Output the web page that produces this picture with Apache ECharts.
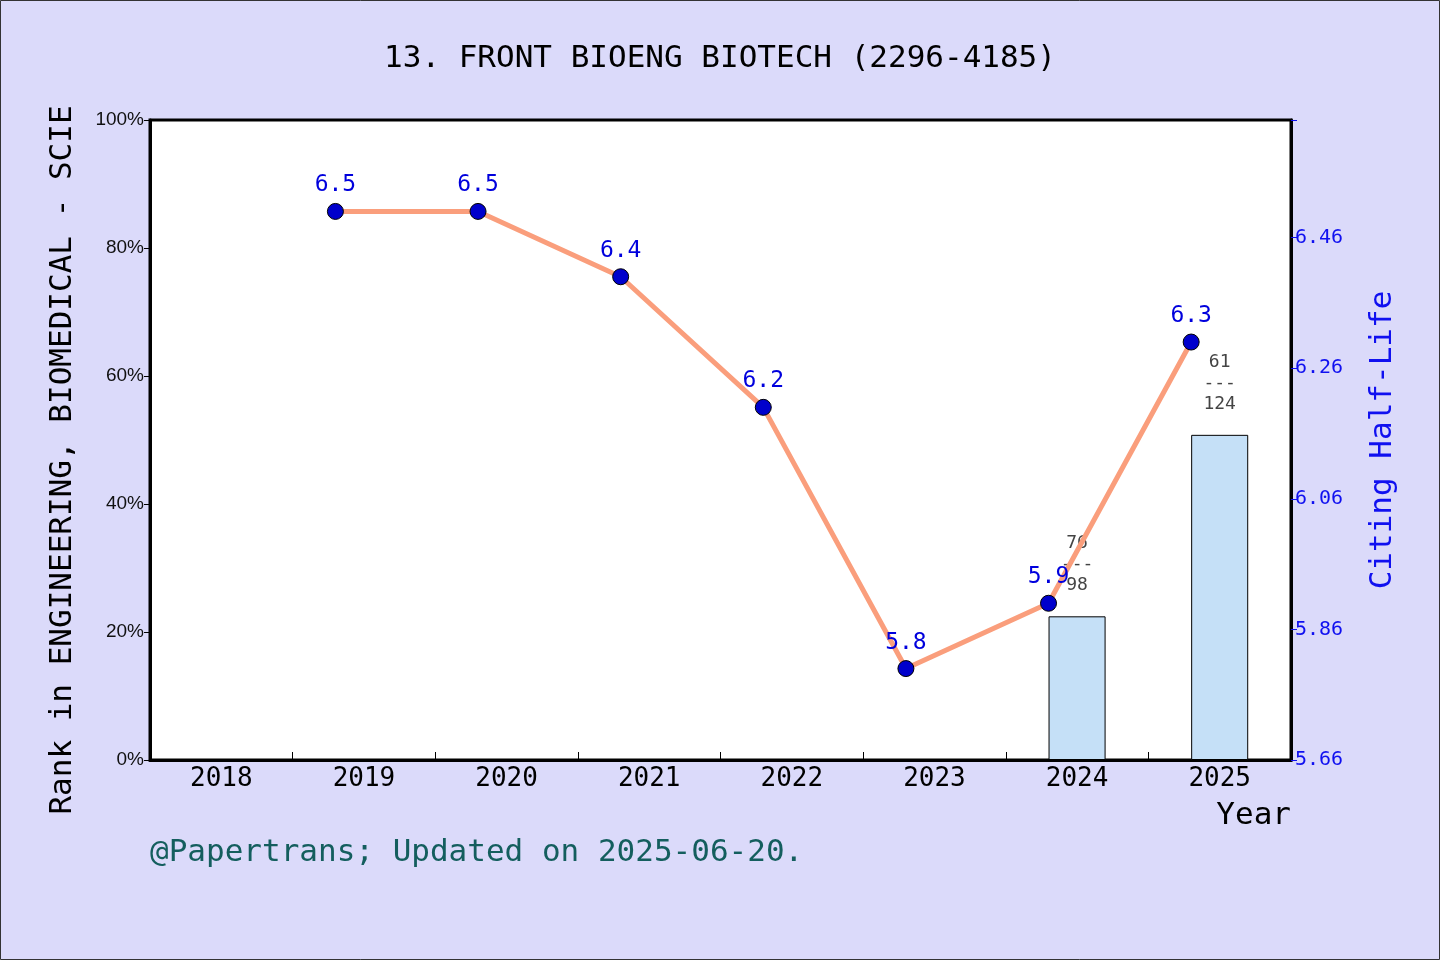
<!DOCTYPE html>
<html>
<head>
<meta charset="utf-8">
<script src="https://cdn.jsdelivr.net/npm/echarts@6/dist/echarts.min.js"></script>
<style>
html,body{margin:0;padding:0;background:#dbdafa}
#chart{width:1440px;height:960px}
</style>
</head>
<body>
<div id="chart"></div>
<script>
// categories on the x axis
var years = ['2018', '2019', '2020', '2021', '2022', '2023', '2024', '2025'];
// citing half-life (right axis)
var halfLifeYears = ['2019', '2020', '2021', '2022', '2023', '2024', '2025'];
var halfLife = [6.5, 6.5, 6.4, 6.2, 5.8, 5.9, 6.3];
// rank in category (left axis bars)
var rankYears = ['2024', '2025'];
var ranks = [76, 61];
var totals = [98, 124];
// right axis range
var hlMin = 5.66;
var hlMax = 6.64;
var hlStep = 0.2;

var mono = '"DejaVu Sans Mono", "Liberation Mono", monospace';

var chart = echarts.init(document.getElementById('chart'));

// bars: share of journals ranked below
var barData = years.map(function (y) {
    var k = rankYears.indexOf(y);
    if (k < 0) return '-';
    return {value: (totals[k] - ranks[k]) / totals[k] * 100, rank: ranks[k], total: totals[k]};
});

// line points sit a bit left of the category centre
var lineData = halfLifeYears.map(function (y, i) {
    return {value: [years.indexOf(y) - 0.2, halfLife[i] - hlMin], orig: halfLife[i]};
});

chart.setOption({
    backgroundColor: '#dbdafa',
    title: {
        text: '13. FRONT BIOENG BIOTECH (2296-4185)',
        left: 'center',
        top: 38,
        textStyle: {fontFamily: mono, fontSize: 31, fontWeight: 'normal', color: '#000'}
    },
    grid: {
        left: 150, right: 149, top: 120, bottom: 200,
        show: true, backgroundColor: '#fff', borderColor: '#000', borderWidth: 3
    },
    xAxis: [{
        type: 'category',
        data: years,
        boundaryGap: true,
        name: 'Year',
        nameLocation: 'end',
        nameGap: 0,
        nameTextStyle: {fontFamily: mono, fontSize: 31, color: '#000', align: 'right', verticalAlign: 'top', padding: [40, 0, 0, 0]},
        axisLine: {onZero: false, lineStyle: {color: '#000', width: 3}},
        axisTick: {show: true, inside: true, length: 8, interval: 0, lineStyle: {color: '#000', width: 1}},
        axisLabel: {fontFamily: mono, fontSize: 26, color: '#000', margin: 6},
        splitLine: {show: false}
    }, {
        type: 'value',
        min: -0.5,
        max: years.length - 0.5,
        show: false
    }],
    yAxis: [{
        type: 'value',
        min: 0, max: 100, interval: 20,
        name: 'Rank in ENGINEERING, BIOMEDICAL - SCIE',
        nameLocation: 'middle',
        nameGap: 72,
        nameRotate: 90,
        nameTextStyle: {fontFamily: mono, fontSize: 31, color: '#000', padding: [0, 40, 0, 0]},
        axisLine: {show: true, onZero: false, lineStyle: {color: '#000', width: 3}},
        axisTick: {show: true, length: 6, lineStyle: {color: '#000', width: 1}},
        axisLabel: {formatter: '{value}%', fontFamily: '"Liberation Sans", Arial, sans-serif', fontSize: 19, color: '#111', margin: 6},
        splitLine: {show: false}
    }, {
        type: 'value',
        position: 'right',
        min: 0, max: hlMax - hlMin, interval: hlStep,
        name: 'Citing Half-Life',
        nameLocation: 'middle',
        nameGap: 76,
        nameRotate: 90,
        nameTextStyle: {fontFamily: mono, fontSize: 31, color: '#1010f0'},
        axisLine: {show: true, onZero: false, lineStyle: {color: '#000', width: 3}},
        axisTick: {show: true, length: 6, lineStyle: {color: '#1010f0', width: 1}},
        axisLabel: {
            fontFamily: mono, fontSize: 20, color: '#1010f0', margin: 4,
            formatter: function (v) {
                if (v > hlMax - hlMin - 0.1) return '';
                return (v + hlMin).toFixed(2);
            }
        },
        splitLine: {show: false}
    }],
    series: [{
        name: 'Rank',
        type: 'bar',
        xAxisIndex: 0,
        yAxisIndex: 0,
        data: barData,
        barWidth: '40%',
        itemStyle: {color: '#c5e0f7', borderColor: '#000', borderWidth: 1},
        label: {
            show: true,
            position: 'top',
            distance: 20,
            fontFamily: mono,
            fontSize: 18,
            lineHeight: 21,
            color: '#444',
            formatter: function (p) { return p.data.rank + '\n---\n' + p.data.total; }
        },
        z: 2
    }, {
        name: 'Citing Half-Life',
        type: 'line',
        xAxisIndex: 1,
        yAxisIndex: 1,
        data: lineData,
        lineStyle: {color: '#fa9e7c', width: 5},
        symbol: 'circle',
        symbolSize: 16,
        itemStyle: {color: '#0000cc', borderColor: '#000', borderWidth: 1},
        label: {
            show: true,
            position: 'top',
            distance: 6,
            fontFamily: mono,
            fontSize: 23,
            color: '#0000dd',
            formatter: function (p) { return p.data.orig.toFixed(1); }
        },
        z: 3
    }],
    graphic: [{
        type: 'rect',
        shape: {x: 0.5, y: 0.5, width: 1439, height: 959},
        style: {fill: 'none', stroke: '#333', lineWidth: 1},
        silent: true
    }, {
        type: 'text',
        left: 150,
        top: 837,
        style: {text: '@Papertrans; Updated on 2025-06-20.', font: '31px ' + mono, fill: '#145e5e'}
    }]
});
</script>
</body>
</html>
